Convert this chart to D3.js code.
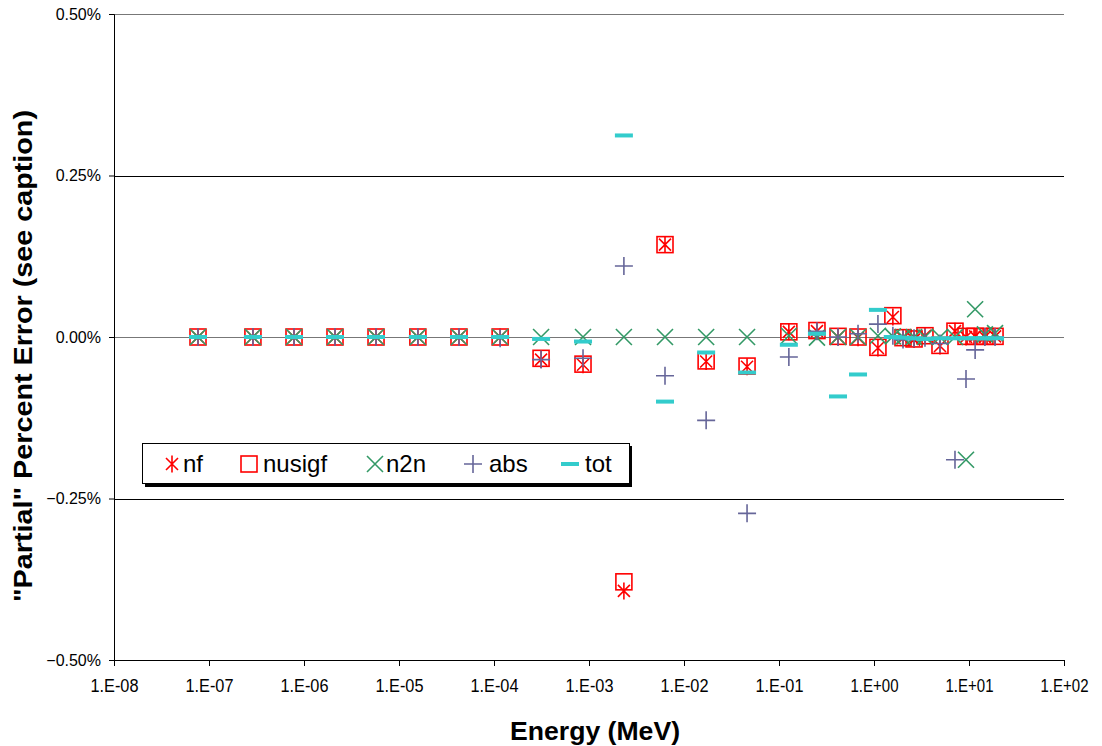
<!DOCTYPE html>
<html>
<head>
<meta charset="utf-8">
<script src="https://cdn.jsdelivr.net/npm/d3@7/dist/d3.min.js"></script>
<style>
    body { margin: 0; background: #fff; }
    svg { font-family: "Liberation Sans", Arial, sans-serif; }
</style>
</head>
<body>
<div id="chart"></div>
<script>
// group energies (MeV) and partial percent errors (%)
var energies = [7.66e-8, 2.90e-7, 7.85e-7, 2.12e-6, 5.73e-6, 1.58e-5, 4.28e-5, 1.16e-4,
    3.13e-4, 8.65e-4, 2.33e-3, 6.31e-3, 1.71e-2, 4.61e-2, 0.127, 0.251, 0.418, 0.679,
    1.10, 1.58, 2.02, 2.64, 3.44, 4.95, 7.12, 9.30, 11.6, 14.7, 18.8];

var nf = [0, 0, 0, 0, 0, 0, 0, 0,
    -0.035, -0.043, -0.393, 0.143, -0.038, -0.046, 0.008, 0.009, 0, -0.001,
    -0.017, 0.031, -0.002, -0.004, 0.002, -0.014, 0.009, 0, 0.001, 0, 0.001];
var nusigf = [0, 0, 0, 0, 0, 0, 0, 0,
    -0.033, -0.042, -0.379, 0.143, -0.037, -0.045, 0.008, 0.010, 0.001, 0,
    -0.016, 0.033, -0.001, -0.003, 0.002, -0.013, 0.009, 0.001, 0.001, 0.001, 0.001];
var n2n = [0, 0, 0, 0, 0, 0, 0, 0,
    0, 0, 0, 0, 0, 0, 0.002, -0.001, 0, 0,
    0.002, 0.001, 0, 0, 0, 0, 0, -0.190, 0.043, 0.004, 0.006];
var abs = [0, 0, 0, 0, 0, 0, 0, -0.002,
    -0.035, -0.033, 0.110, -0.060, -0.129, -0.273, -0.031, 0.009, 0, 0.005,
    0.020, 0.002, -0.004, -0.002, -0.001, -0.010, -0.190, -0.065, -0.020, 0, 0];
var tot = [0, 0, 0, 0, 0, 0, 0, 0,
    -0.003, -0.007, 0.312, -0.100, -0.024, -0.055, -0.012, 0.005, -0.092, -0.058,
    0.042, 0, -0.001, -0.002, -0.003, -0.002, -0.002, -0.002, -0.002, -0.002, -0.002];

var xTicks = [1e-8, 1e-7, 1e-6, 1e-5, 1e-4, 1e-3, 1e-2, 1e-1, 1, 10, 100];
var yTicks = [-0.5, -0.25, 0, 0.25, 0.5];

var margin = { top: 14, right: 38, bottom: 86, left: 114 };
var W = 1102, H = 746;
var width = W - margin.left - margin.right,
    height = H - margin.top - margin.bottom;

var svg = d3.select("#chart").append("svg")
    .attr("width", W)
    .attr("height", H);

var g = svg.append("g")
    .attr("transform", "translate(" + margin.left + "," + margin.top + ")");

var x = d3.scaleLog().domain([1e-8, 100]).range([0, width]);
var y = d3.scaleLinear().domain([-0.5, 0.5]).range([height, 0]);

// grid lines
g.selectAll(".grid").data(yTicks.filter(function(d) { return d > -0.5; }))
    .enter().append("line")
    .attr("x1", 0).attr("x2", width)
    .attr("y1", function(d) { return Math.round(y(d)) + 0.5; })
    .attr("y2", function(d) { return Math.round(y(d)) + 0.5; })
    .attr("stroke", function(d) { return (d === 0 || d === 0.5) ? "#777" : "#000"; })
    .attr("stroke-width", 1);

// axes
var xAxis = d3.axisBottom(x).tickValues(xTicks).tickSize(6).tickPadding(13)
    .tickFormat(function(d) {
        var e = Math.round(Math.log10(d));
        return "1.E" + (e < 0 ? "-" : "+") + d3.format("02d")(Math.abs(e));
    });
var yAxis = d3.axisLeft(y).tickValues(yTicks).tickSize(5).tickPadding(8)
    .tickFormat(function(d) { return d3.format(".2f")(d) + "%"; });

var gx = g.append("g")
    .attr("transform", "translate(0," + height + ")")
    .call(xAxis);
var gy = g.append("g").call(yAxis);

[gx, gy].forEach(function(a) {
    a.select(".domain").attr("stroke", "#000");
    a.selectAll(".tick line").attr("stroke", "#000");
    a.selectAll("text").attr("font-size", 16).attr("fill", "#000")
        .attr("font-family", "Liberation Sans, Arial, sans-serif");
});
// the x labels look narrow and tall in the original
gx.selectAll("text")
    .attr("font-size", 18)
    .attr("textLength", 48)
    .attr("lengthAdjust", "spacingAndGlyphs");

// axis titles
svg.append("text")
    .attr("x", margin.left + x(1e-3) + 6)
    .attr("y", 740)
    .attr("text-anchor", "middle")
    .attr("font-size", 26)
    .attr("font-weight", "bold")
    .attr("textLength", 170)
    .attr("lengthAdjust", "spacingAndGlyphs")
    .text("Energy (MeV)");

svg.append("text")
    .attr("transform", "translate(32," + (margin.top + y(0) + 19) + ") rotate(-90)")
    .attr("text-anchor", "middle")
    .attr("font-size", 26)
    .attr("font-weight", "bold")
    .attr("textLength", 492)
    .attr("lengthAdjust", "spacingAndGlyphs")
    .text("\"Partial\" Percent Error (see caption)");

// marker shapes
var markers = {
    nf: function(s) {
        s.append("path")
            .attr("d", "M-6,-6L6,6M-6,6L6,-6M0,-8.5L0,8.5")
            .attr("stroke", "#ff0000").attr("stroke-width", 1.6).attr("fill", "none");
    },
    nusigf: function(s) {
        s.append("rect")
            .attr("x", -8).attr("y", -8).attr("width", 16).attr("height", 16)
            .attr("stroke", "#ff0000").attr("stroke-width", 1.6).attr("fill", "none");
    },
    n2n: function(s) {
        s.append("path")
            .attr("d", "M-8,-8L8,8M-8,8L8,-8")
            .attr("stroke", "#339966").attr("stroke-width", 1.6).attr("fill", "none");
    },
    abs: function(s) {
        s.append("path")
            .attr("d", "M-9,0L9,0M0,-9L0,9")
            .attr("stroke", "#666699").attr("stroke-width", 1.6).attr("fill", "none");
    },
    tot: function(s) {
        s.append("rect")
            .attr("x", -9).attr("y", -2).attr("width", 18).attr("height", 4)
            .attr("fill", "#33cccc");
    }
};

var series = [
    { name: "nf", values: nf },
    { name: "nusigf", values: nusigf },
    { name: "n2n", values: n2n },
    { name: "abs", values: abs },
    { name: "tot", values: tot }
];

series.forEach(function(sr) {
    var pts = g.append("g").selectAll(".pt")
        .data(sr.values).enter().append("g")
        .attr("transform", function(d, i) {
            return "translate(" + x(energies[i]) + "," + y(d) + ")";
        });
    markers[sr.name](pts);
});

// legend
var leg = svg.append("g").attr("transform", "translate(142,443)");
leg.append("rect")
    .attr("x", 3).attr("y", 3).attr("width", 487).attr("height", 41)
    .attr("fill", "#000");
leg.append("rect")
    .attr("x", 0.5).attr("y", 0.5).attr("width", 487).attr("height", 40)
    .attr("fill", "#fff").attr("stroke", "#000").attr("stroke-width", 1);

var legX = [30, 107, 233, 331, 428];
var legTextDx = [11, 14, 11, 16, 15];
series.forEach(function(sr, i) {
    var item = leg.append("g").attr("transform", "translate(" + legX[i] + ",21)");
    markers[sr.name](item);
    item.append("text")
        .attr("x", legTextDx[i])
        .attr("y", 8)
        .attr("font-size", 24)
        .text(sr.name);
});
</script>
</body>
</html>
